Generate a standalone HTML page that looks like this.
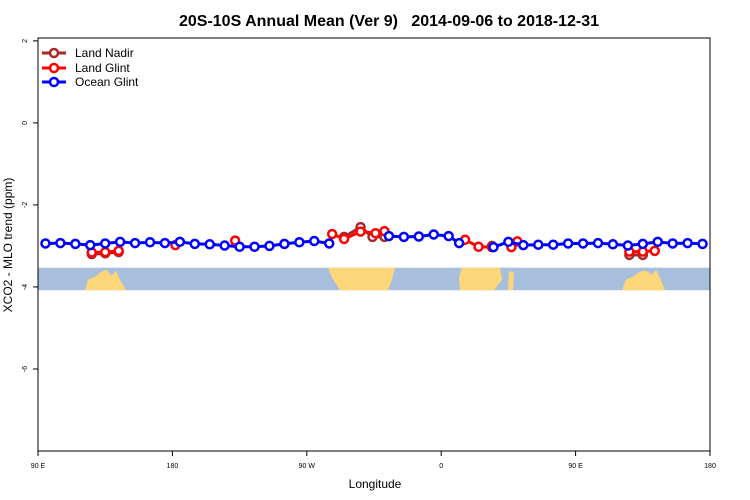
<!DOCTYPE html>
<html><head><meta charset="utf-8"><style>
body{margin:0;background:#fff;}
svg{display:block;font-family:"Liberation Sans",sans-serif;}
</style></head><body>
<svg id="chart" width="750" height="500" xmlns="http://www.w3.org/2000/svg">
<text x="389" y="26" text-anchor="middle" font-size="16" font-weight="bold" style="white-space:pre">20S-10S Annual Mean (Ver 9)   2014-09-06 to 2018-12-31</text>
<g id="band"></g>
<g id="axes"></g>
<g id="series"></g>
<text x="375" y="488" text-anchor="middle" font-size="12">Longitude</text>
<text transform="translate(12,245) rotate(-90)" text-anchor="middle" font-size="12">XCO2 - MLO trend (ppm)</text>
<g>
<g><line x1="42" y1="53" x2="66" y2="53" stroke="#a52a2a" stroke-width="3"/><circle cx="54" cy="53" r="4" fill="#fff" stroke="#a52a2a" stroke-width="2.5"/><text x="75" y="57" font-size="12">Land Nadir</text></g>
<g><line x1="42" y1="68" x2="66" y2="68" stroke="#ff0000" stroke-width="3"/><circle cx="54" cy="68" r="4" fill="#fff" stroke="#ff0000" stroke-width="2.5"/><text x="75" y="72" font-size="12">Land Glint</text></g>
<g><line x1="42" y1="82" x2="66" y2="82" stroke="#0000ff" stroke-width="3"/><circle cx="54" cy="82" r="4" fill="#fff" stroke="#0000ff" stroke-width="2.5"/><text x="75" y="86" font-size="12">Ocean Glint</text></g>
</g>
</svg>
<script>
const xTickLabels=["90 E","180","90 W","0","90 E","180"];
const xTickVals=[90,180,270,360,450,540];
const yTicks=[2,0,-2,-4,-6];
const lonOcean=[95,105,115,125,135,145,155,165,175,185,195,205,215,225,235,245,255,265,275,285,null,325,335,345,355,365,372,null,395,405,415,425,435,445,455,465,475,485,495,505,515,525,535];
const valOcean=[-2.94,-2.93,-2.95,-2.98,-2.94,-2.90,-2.93,-2.91,-2.93,-2.90,-2.95,-2.96,-2.99,-3.02,-3.02,-3.0,-2.95,-2.91,-2.88,-2.94,null,-2.76,-2.78,-2.77,-2.72,-2.76,-2.93,null,-3.03,-2.9,-2.98,-2.97,-2.97,-2.94,-2.94,-2.93,-2.96,-2.99,-2.95,-2.90,-2.94,-2.93,-2.95];
const lonGlint=[126,135,144,null,182,null,222,null,287,295,306,316,322,null,376,385,394,null,407,411,null,486,495,503];
const valGlint=[-3.16,-3.15,-3.12,null,-2.98,null,-2.87,null,-2.71,-2.83,-2.65,-2.69,-2.64,null,-2.85,-3.02,-3.03,null,-3.03,-2.89,null,-3.14,-3.14,-3.12];
const lonNadir=[126,135,144,null,295,306,314,322,null,394,null,486,495];
const valNadir=[-3.2,-3.18,-3.15,null,-2.78,-2.54,-2.78,-2.78,null,-3.0,null,-3.22,-3.22];

const X0=38,X1=710,Y0=38,Y1=451,LMIN=90,LMAX=540,VMIN=-8,VMAX=2.07;
const sx=l=>X0+(l-LMIN)*(X1-X0)/(LMAX-LMIN);
const sy=v=>Y1-(v-VMIN)*(Y1-Y0)/(VMAX-VMIN);
const NS="http://www.w3.org/2000/svg";
function mk(tag,attrs,parent){const e=document.createElementNS(NS,tag);for(const k in attrs)e.setAttribute(k,attrs[k]);parent.appendChild(e);return e;}

const band=document.getElementById('band');
const bTop=sy(-3.53),bBot=sy(-4.08);
let r=mk('rect',{x:X0,y:bTop,width:X1-X0,height:bBot-bTop,fill:'#a8bedd'},band);


const lands=[
 [[85,bBot],[88,bTop+12],[95,bTop+9],[100,bTop+5],[106,bTop+2],[112,bTop+8],[116,bTop+3],[120,bTop+12],[126,bBot]],
 [[328,bTop],[395,bTop],[392,bTop+12],[388,bBot],[340,bBot],[332,bTop+10]],
 [[462,bTop],[500,bTop],[502,bTop+12],[494,bBot],[460,bBot],[459,bTop+10]],
 [[509,bTop+4],[514,bTop+4],[513,bBot],[508,bBot]],
 [[622,bBot],[626,bTop+12],[633,bTop+9],[640,bTop+4],[646,bTop+3],[652,bTop+7],[656,bTop+2],[660,bTop+10],[665,bBot]]
];
lands.forEach(p=>{const e=mk('polygon',{points:p.map(q=>q.join(',')).join(' '),fill:'#fdd67a'},band);

});

const ax=document.getElementById('axes');
let box=mk('rect',{x:X0,y:Y0,width:X1-X0,height:Y1-Y0,fill:'none',stroke:'#000','stroke-width':1},ax);


xTickVals.forEach((l,i)=>{const x=sx(l);
 mk('line',{x1:x,y1:Y1,x2:x,y2:Y1+5,stroke:'#000'},ax);
 const t=mk('text',{x:x,y:Y1+17,'text-anchor':'middle','font-size':7},ax);t.textContent=xTickLabels[i];
 
 });
yTicks.forEach(v=>{const y=sy(v);
 mk('line',{x1:X0-5,y1:y,x2:X0,y2:y,stroke:'#000'},ax);
 const t=mk('text',{transform:`translate(${X0-11},${y}) rotate(-90)`,'text-anchor':'middle','font-size':7},ax);t.textContent=v;
 
 });

const sg=document.getElementById('series');
function draw(lons,vals,color,name){
 let seg=[];const segs=[];
 lons.forEach((l,i)=>{if(l===null||vals[i]===null){if(seg.length)segs.push(seg);seg=[];}else seg.push([sx(l),sy(vals[i])]);});
 if(seg.length)segs.push(seg);
 segs.forEach(s=>{if(s.length>1){const pl=mk('polyline',{points:s.map(p=>p.join(',')).join(' '),fill:'none',stroke:color,'stroke-width':3},sg);
  
  }});
 segs.flat().forEach(p=>{const c=mk('circle',{cx:p[0],cy:p[1],r:4,fill:'#fff',stroke:color,'stroke-width':2.5},sg);
  
  });
}
draw(lonNadir,valNadir,'#a52a2a','land-nadir');
draw(lonGlint,valGlint,'#ff0000','land-glint');
draw(lonOcean,valOcean,'#0000ff','ocean-glint');
</script>
</body></html>
